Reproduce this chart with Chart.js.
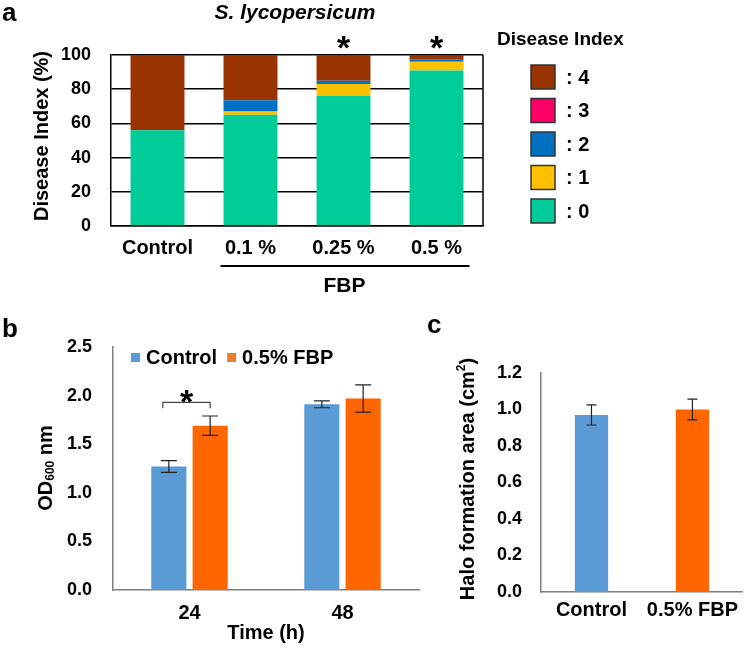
<!DOCTYPE html>
<html>
<head>
<meta charset="utf-8">
<script src="https://cdn.jsdelivr.net/npm/chart.js@4/dist/chart.umd.min.js"></script>
<style>
  body { margin: 0; background: #fff; }
  #wrap { position: relative; width: 744px; height: 649px; overflow: hidden; }
  .box { position: absolute; }
</style>
</head>
<body>
<div id="wrap">
  <div class="box" style="left:0;top:0;width:744px;height:300px"><canvas id="chA"></canvas></div>
  <div class="box" style="left:0;top:300px;width:440px;height:349px"><canvas id="chB"></canvas></div>
  <div class="box" style="left:420px;top:300px;width:324px;height:349px"><canvas id="chC"></canvas></div>
</div>
<script>
/* panel a: disease index of S. lycopersicum, stacked % per treatment */
var diCategories = ['Control', '0.1 %', '0.25 %', '0.5 %'];
var diLevels = [': 0', ': 1', ': 2', ': 3', ': 4'];
var diColors = ['#00CC99', '#FFC000', '#0070C0', '#FF0066', '#993300'];
var di0 = [56, 65, 76, 91];
var di1 = [0, 2, 7, 5];
var di2 = [0, 6.5, 2, 1.5];
var di3 = [0, 0, 0, 0];
var di4 = [44, 26.5, 15, 2.5];
var diStars = [false, false, true, true];

/* panel b: OD600 over time */
var odTimes = ['24', '48'];
var odSeries = ['Control', '0.5% FBP'];
var odControl = [1.27, 1.91];
var odControlErr = [0.06, 0.035];
var odFbp = [1.69, 1.97];
var odFbpErr = [0.10, 0.14];

/* panel c: halo formation area */
var haloGroups = ['Control', '0.5% FBP'];
var haloArea = [0.97, 1.00];
var haloErr = [0.055, 0.057];

var FONT = '"Liberation Sans", Arial, sans-serif';
var BLUE = '#5B9BD5';
var ORANGE = '#FF6600';
var AXIS_GRAY = '#7f7f7f';

function bold(size) { return { family: FONT, size: size, weight: 'bold' }; }
function css(size, style) { return (style || 'bold') + ' ' + size + 'px ' + FONT; }
function fixWidth(w) { return function (s) { s.width = w; }; }
function fixHeight(h) { return function (s) { s.height = h; }; }

function drawVerticalTitle(ctx, cx, cy, parts) {
  ctx.save();
  ctx.translate(cx, cy);
  ctx.rotate(-Math.PI / 2);
  var total = 0;
  parts.forEach(function (p) { ctx.font = p.font; p.w = ctx.measureText(p.text).width; total += p.w; });
  var x = -total / 2;
  ctx.textBaseline = 'middle';
  ctx.textAlign = 'left';
  ctx.fillStyle = '#000';
  parts.forEach(function (p) { ctx.font = p.font; ctx.fillText(p.text, x, p.dy || 0); x += p.w; });
  ctx.restore();
}

function drawStar(ctx, x, cy, size) {
  ctx.save();
  ctx.font = css(size);
  ctx.fillStyle = '#000';
  ctx.textAlign = 'center';
  ctx.textBaseline = 'alphabetic';
  ctx.fillText('*', x, cy + size * 0.57);
  ctx.restore();
}

function drawErrorBars(chart, errSets, capHalf) {
  var ctx = chart.ctx;
  var y = chart.scales.y;
  ctx.save();
  ctx.strokeStyle = '#222';
  ctx.lineWidth = 1.2;
  chart.data.datasets.forEach(function (ds, i) {
    var meta = chart.getDatasetMeta(i);
    meta.data.forEach(function (bar, j) {
      var v = ds.data[j], e = errSets[i][j];
      var top = y.getPixelForValue(v + e), bot = y.getPixelForValue(v - e);
      ctx.beginPath();
      ctx.moveTo(bar.x, top); ctx.lineTo(bar.x, bot);
      ctx.moveTo(bar.x - capHalf, top); ctx.lineTo(bar.x + capHalf, top);
      ctx.moveTo(bar.x - capHalf, bot); ctx.lineTo(bar.x + capHalf, bot);
      ctx.stroke();
    });
  });
  ctx.restore();
}

/* ---------- panel a ---------- */
var diData = [di0, di1, di2, di3, di4];
var annotA = {
  id: 'annotA',
  afterDraw: function (chart) {
    var ctx = chart.ctx, area = chart.chartArea;
    ctx.save();
    // right frame edge
    ctx.strokeStyle = '#000';
    ctx.lineWidth = 1.5;
    ctx.beginPath();
    ctx.moveTo(area.right, area.top); ctx.lineTo(area.right, area.bottom);
    ctx.stroke();

    ctx.fillStyle = '#000';
    ctx.textBaseline = 'alphabetic';
    ctx.textAlign = 'left';
    ctx.font = css(26);
    ctx.fillText('a', 2, 21);

    ctx.textAlign = 'center';
    ctx.textBaseline = 'middle';
    ctx.font = css(21, 'italic bold');
    ctx.fillText('S. lycopersicum', 295, 13);

    // stars above significant bars
    var meta = chart.getDatasetMeta(0);
    diStars.forEach(function (s, j) {
      if (s) drawStar(ctx, meta.data[j].x, area.top - 15, 34);
    });

    // FBP group line
    var b1 = meta.data[1], b3 = meta.data[3];
    ctx.lineWidth = 2;
    ctx.beginPath();
    ctx.moveTo(b1.x - b1.width / 2 - 3, 266);
    ctx.lineTo(b3.x + b3.width / 2 + 6, 266);
    ctx.stroke();
    ctx.font = css(21);
    ctx.fillText('FBP', (b1.x + b3.x) / 2 + 1, 286);

    // legend
    ctx.textAlign = 'left';
    ctx.font = css(19);
    ctx.fillText('Disease Index', 497, 40);
    ctx.font = css(20);
    for (var k = 4; k >= 0; k--) {
      var cy = 77 + (4 - k) * 33.5;
      ctx.fillStyle = chart.data.datasets[k].backgroundColor;
      ctx.fillRect(531, cy - 12, 24, 24);
      ctx.strokeStyle = '#333';
      ctx.lineWidth = 1.5;
      ctx.strokeRect(531, cy - 12, 24, 24);
      ctx.fillStyle = '#000';
      ctx.fillText(chart.data.datasets[k].label, 566, cy + 1);
    }
    ctx.restore();

    drawVerticalTitle(ctx, 42, 136, [{ text: 'Disease Index (%)', font: css(20) }]);
  }
};

new Chart(document.getElementById('chA'), {
  type: 'bar',
  data: {
    labels: diCategories,
    datasets: diData.map(function (d, i) {
      return {
        label: diLevels[i], data: d, backgroundColor: diColors[i],
        barPercentage: 0.58, categoryPercentage: 1
      };
    })
  },
  options: {
    responsive: true,
    maintainAspectRatio: false,
    animation: false,
    layout: { padding: { left: 0, right: 261, top: 55, bottom: 0 } },
    plugins: { legend: { display: false }, tooltip: { enabled: false } },
    scales: {
      x: {
        stacked: true,
        grid: { display: false, drawTicks: false },
        border: { color: '#000', width: 1.5 },
        ticks: { color: '#000', font: bold(20), padding: 10 },
        afterFit: fixHeight(74)
      },
      y: {
        stacked: true, min: 0, max: 100,
        grid: { color: '#000', lineWidth: 1.5, drawTicks: false },
        border: { color: '#000', width: 1.5 },
        ticks: { stepSize: 20, color: '#000', font: bold(18), padding: 20 },
        afterFit: fixWidth(111)
      }
    }
  },
  plugins: [annotA]
});

/* ---------- panel b ---------- */
var annotB = {
  id: 'annotB',
  afterDatasetsDraw: function (chart) {
    drawErrorBars(chart, [odControlErr, odFbpErr], 8);
  },
  afterDraw: function (chart) {
    var ctx = chart.ctx, y = chart.scales.y;
    ctx.save();
    ctx.fillStyle = '#000';
    ctx.textAlign = 'left';
    ctx.textBaseline = 'alphabetic';
    ctx.font = css(26);
    ctx.fillText('b', 2, 37);

    // legend inside plot
    ctx.font = css(20);
    ctx.textBaseline = 'middle';
    var x = 131, ly = 58;
    chart.data.datasets.forEach(function (ds, i) {
      ctx.fillStyle = i === 0 ? ds.backgroundColor : '#ED7D31';
      ctx.fillRect(x, ly - 5, 9, 9);
      x += 15;
      ctx.fillStyle = '#000';
      ctx.fillText(ds.label, x, ly);
      x += ctx.measureText(ds.label).width + 10;
    });

    // significance bracket at 24 h
    var a = chart.getDatasetMeta(0).data[0], b = chart.getDatasetMeta(1).data[0];
    var top = y.getPixelForValue(1.93), foot = y.getPixelForValue(1.87);
    ctx.strokeStyle = '#444';
    ctx.lineWidth = 1.2;
    ctx.beginPath();
    ctx.moveTo(a.x - 6, foot); ctx.lineTo(a.x - 6, top);
    ctx.lineTo(b.x, top); ctx.lineTo(b.x, foot);
    ctx.stroke();
    drawStar(ctx, (a.x - 6 + b.x) / 2, top - 9, 34);
    ctx.restore();

    drawVerticalTitle(ctx, 46, 168, [
      { text: 'OD', font: css(20) },
      { text: '600', font: css(12), dy: 5 },
      { text: ' nm', font: css(20) }
    ]);
  }
};

new Chart(document.getElementById('chB'), {
  type: 'bar',
  data: {
    labels: odTimes,
    datasets: [
      { label: odSeries[0], data: odControl, backgroundColor: BLUE, categoryPercentage: 0.54, barPercentage: 0.85 },
      { label: odSeries[1], data: odFbp, backgroundColor: ORANGE, categoryPercentage: 0.54, barPercentage: 0.85 }
    ]
  },
  options: {
    responsive: true,
    maintainAspectRatio: false,
    animation: false,
    layout: { padding: { left: 0, right: 21, top: 47, bottom: 0 } },
    plugins: { legend: { display: false }, tooltip: { enabled: false } },
    scales: {
      x: {
        grid: { display: false, drawTicks: false },
        border: { color: AXIS_GRAY, width: 1.5 },
        ticks: { color: '#000', font: bold(20), padding: 11 },
        title: { display: true, text: 'Time (h)', color: '#000', font: bold(20), padding: { top: 0, bottom: 4 } },
        afterFit: fixHeight(59)
      },
      y: {
        min: 0, max: 2.5,
        grid: { display: false, drawTicks: false },
        border: { color: AXIS_GRAY, width: 1.5 },
        ticks: { stepSize: 0.5, color: '#000', font: bold(18), padding: 21,
          callback: function (v) { return v.toFixed(1); } },
        afterFit: fixWidth(113)
      }
    }
  },
  plugins: [annotB]
});

/* ---------- panel c ---------- */
var annotC = {
  id: 'annotC',
  afterDatasetsDraw: function (chart) {
    drawErrorBars(chart, [haloErr], 5);
  },
  afterDraw: function (chart) {
    var ctx = chart.ctx;
    ctx.save();
    ctx.fillStyle = '#000';
    ctx.textAlign = 'left';
    ctx.textBaseline = 'alphabetic';
    ctx.font = css(26);
    ctx.fillText('c', 7, 33);
    ctx.restore();

    drawVerticalTitle(ctx, 48, 179, [
      { text: 'Halo formation area (cm', font: css(20) },
      { text: '2', font: css(12), dy: -6 },
      { text: ')', font: css(20) }
    ]);
  }
};

new Chart(document.getElementById('chC'), {
  type: 'bar',
  data: {
    labels: haloGroups,
    datasets: [
      { label: 'Halo formation area', data: haloArea, backgroundColor: [BLUE, ORANGE],
        barPercentage: 0.33, categoryPercentage: 1 }
    ]
  },
  options: {
    responsive: true,
    maintainAspectRatio: false,
    animation: false,
    layout: { padding: { left: 0, right: 0, top: 73, bottom: 0 } },
    plugins: { legend: { display: false }, tooltip: { enabled: false } },
    scales: {
      x: {
        grid: { display: false, drawTicks: false },
        border: { color: AXIS_GRAY, width: 1.5 },
        ticks: { color: '#000', font: bold(20), padding: 6 },
        afterFit: fixHeight(57)
      },
      y: {
        min: 0, max: 1.2,
        grid: { display: false, drawTicks: false },
        border: { color: AXIS_GRAY, width: 1.5 },
        ticks: { stepSize: 0.2, color: '#000', font: bold(18), padding: 19,
          callback: function (v) { return v.toFixed(1); } },
        afterFit: fixWidth(121)
      }
    }
  },
  plugins: [annotC]
});
</script>
</body>
</html>
